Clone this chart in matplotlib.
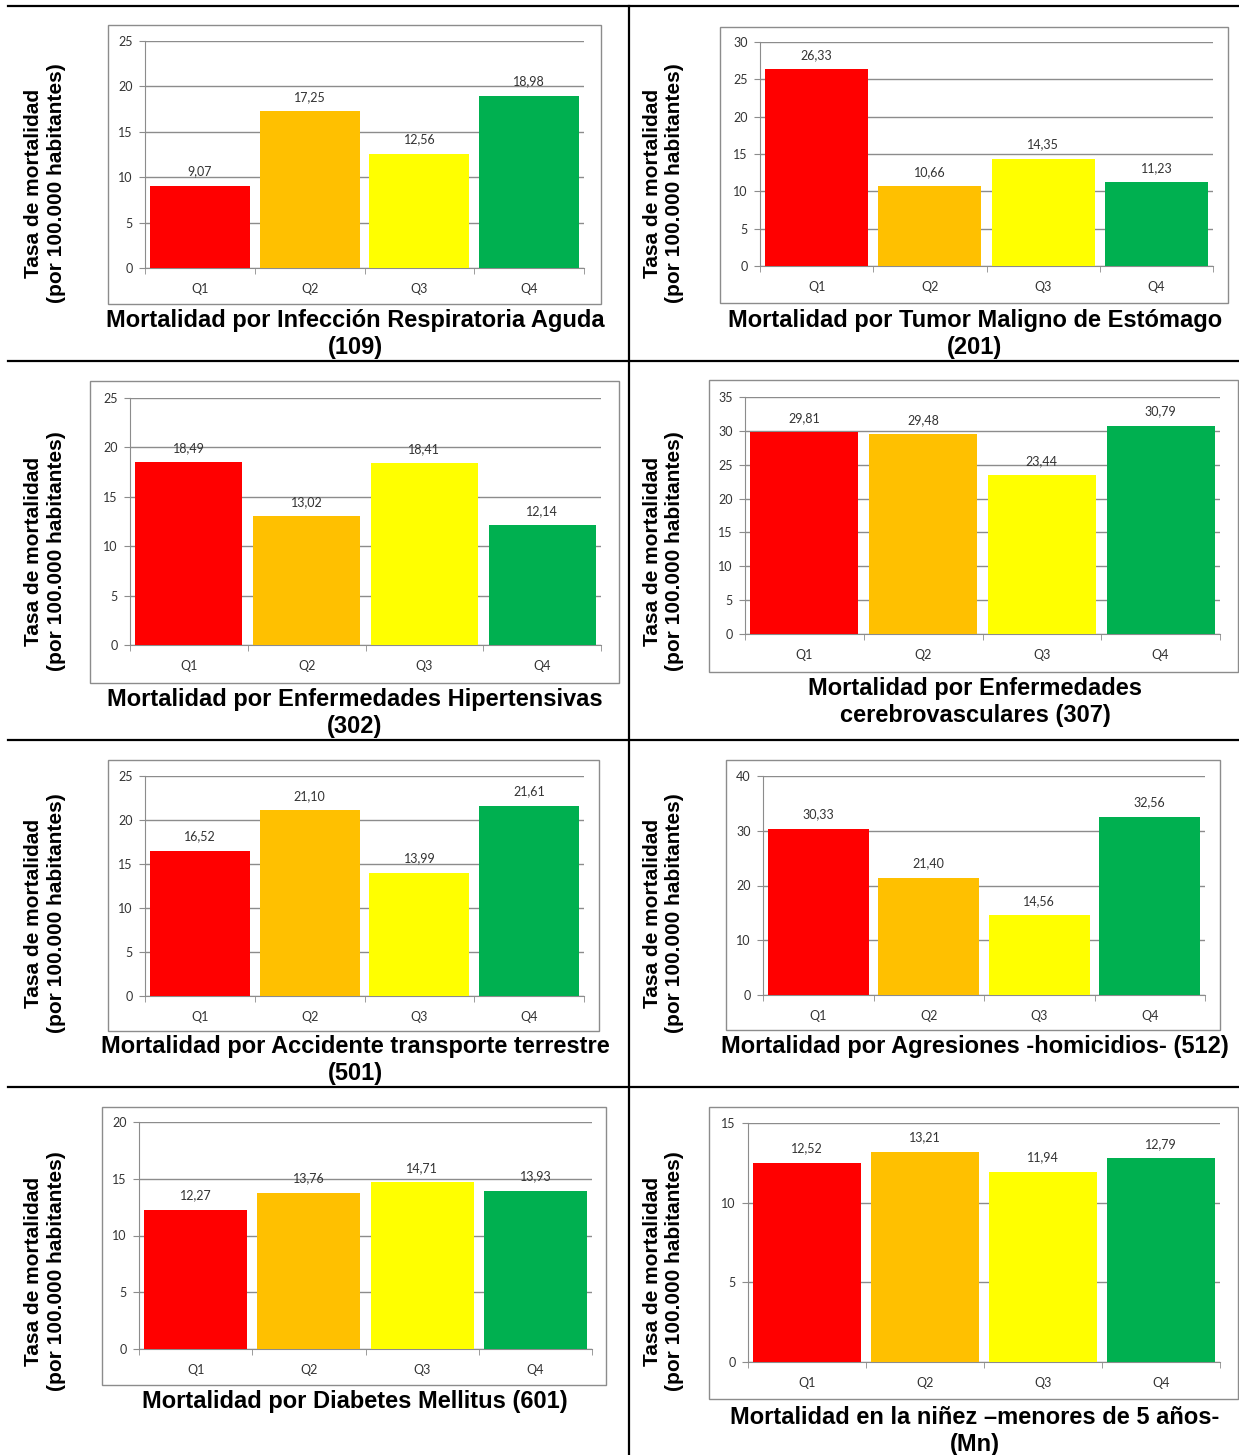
import matplotlib
matplotlib.use("Agg")
import matplotlib.pyplot as plt
from matplotlib.lines import Line2D
from matplotlib.patches import Rectangle

W, H = 1239, 1455

cuartiles = ["Q1", "Q2", "Q3", "Q4"]
colores = ["#FF0000", "#FFC000", "#FFFF00", "#00B050"]

titulos = [
    "Mortalidad por Infección Respiratoria Aguda\n(109)",
    "Mortalidad por Tumor Maligno de Estómago\n(201)",
    "Mortalidad por Enfermedades Hipertensivas\n(302)",
    "Mortalidad por Enfermedades\ncerebrovasculares (307)",
    "Mortalidad por Accidente transporte terrestre\n(501)",
    "Mortalidad por Agresiones -homicidios- (512)",
    "Mortalidad por Diabetes Mellitus (601)",
    "Mortalidad en la niñez –menores de 5 años-\n(Mn)",
]

ira_109 = [9.07, 17.25, 12.56, 18.98]
estomago_201 = [26.33, 10.66, 14.35, 11.23]
hipertensivas_302 = [18.49, 13.02, 18.41, 12.14]
cerebrovasculares_307 = [29.81, 29.48, 23.44, 30.79]
transporte_501 = [16.52, 21.10, 13.99, 21.61]
homicidios_512 = [30.33, 21.40, 14.56, 32.56]
diabetes_601 = [12.27, 13.76, 14.71, 13.93]
ninez_mn = [12.52, 13.21, 11.94, 12.79]

series = [ira_109, estomago_201, hipertensivas_302, cerebrovasculares_307,
          transporte_501, homicidios_512, diabetes_601, ninez_mn]
ymax = [25, 30, 25, 35, 25, 40, 20, 15]
ypaso = [5, 5, 5, 5, 5, 10, 5, 5]

# pixel layout: frame box, plot box (x0, top, x1, zero), title y, ylabel center
frames = [(108, 25, 601, 304), (720, 27, 1228, 303),
          (90, 381, 619, 683), (709, 380, 1238, 672),
          (108, 760, 599, 1031), (726, 760, 1220, 1030),
          (102, 1107, 606, 1385), (709, 1107, 1238, 1399)]
plots = [(145, 41, 584, 268), (760, 42, 1213, 266),
         (130, 398, 601, 645), (745, 397, 1220, 634),
         (145, 776, 584, 996), (763, 776, 1205, 995),
         (139, 1122, 592, 1349), (748, 1123, 1220, 1362)]
title_y = [319, 319, 698, 687, 1045, 1045, 1400, 1416]
ylab_y = [183, 183, 551, 551, 913, 913, 1271, 1271]

fig = plt.figure(figsize=(W / 100, H / 100), dpi=100)

def fx(x):
    return x / W

def fy(y):
    return 1 - y / H

for i, vals in enumerate(series):
    col = i % 2
    cx = 355 if col == 0 else 975
    fr = frames[i]
    fig.add_artist(Rectangle((fx(fr[0]), fy(fr[3])), fx(fr[2] - fr[0]), (fr[3] - fr[1]) / H,
                             transform=fig.transFigure, fill=False,
                             edgecolor="#8c8c8c", linewidth=1.0))
    x0, top, x1, zero = plots[i]
    ax = fig.add_axes([fx(x0), fy(zero), fx(x1 - x0), (zero - top) / H])
    pos = range(len(cuartiles))
    ax.bar(pos, vals, width=0.91, color=colores, zorder=3)
    for p, v in zip(pos, vals):
        ax.annotate(f"{v:.2f}".replace(".", ","), (p, v), xytext=(0, 6),
                    textcoords="offset points", ha="center", va="bottom",
                    fontsize=9, color="#333333", family="Lato")
    ax.set_xlim(-0.5, 3.5)
    ax.set_ylim(0, ymax[i])
    ax.set_yticks(range(0, ymax[i] + 1, ypaso[i]))
    ax.set_xticks(list(pos))
    ax.set_xticklabels(cuartiles)
    ax.set_xticks([-0.5, 0.5, 1.5, 2.5, 3.5], minor=True)
    ax.tick_params(axis="x", which="major", length=0, pad=11,
                   labelsize=9, labelcolor="#333333")
    ax.tick_params(axis="x", which="minor", length=4, color="#8c8c8c")
    ax.tick_params(axis="y", length=4, color="#8c8c8c", labelsize=9,
                   labelcolor="#333333", pad=5)
    for lab in ax.get_xticklabels() + ax.get_yticklabels():
        lab.set_family("Lato")
    ax.yaxis.grid(True, color="#8c8c8c", linewidth=1.0, zorder=0)
    ax.set_axisbelow(True)
    for s in ["top", "right"]:
        ax.spines[s].set_visible(False)
    for s in ["left", "bottom"]:
        ax.spines[s].set_color("#8c8c8c")
    ax.patch.set_alpha(0)

    fig.text(fx(cx), fy(title_y[i] - 10), titulos[i], ha="center", va="top",
             fontsize=17, fontweight="bold", family="Liberation Sans",
             linespacing=1.22)
    lx = 45 if col == 0 else 664
    fig.text(fx(lx), fy(ylab_y[i]), "Tasa de mortalidad\n(por 100.000 habitantes)",
             rotation=90, ha="center", va="center", fontsize=15,
             fontweight="bold", family="Liberation Sans", linespacing=1.2)

# table borders
lw = 1.6
for y in [6, 361, 740, 1087]:
    fig.add_artist(Line2D([fx(8), 1], [fy(y), fy(y)], color="black",
                          linewidth=lw, transform=fig.transFigure))
fig.add_artist(Line2D([fx(629), fx(629)], [fy(6), 0], color="black",
                      linewidth=lw, transform=fig.transFigure))

fig.savefig("out.png", dpi=100)
